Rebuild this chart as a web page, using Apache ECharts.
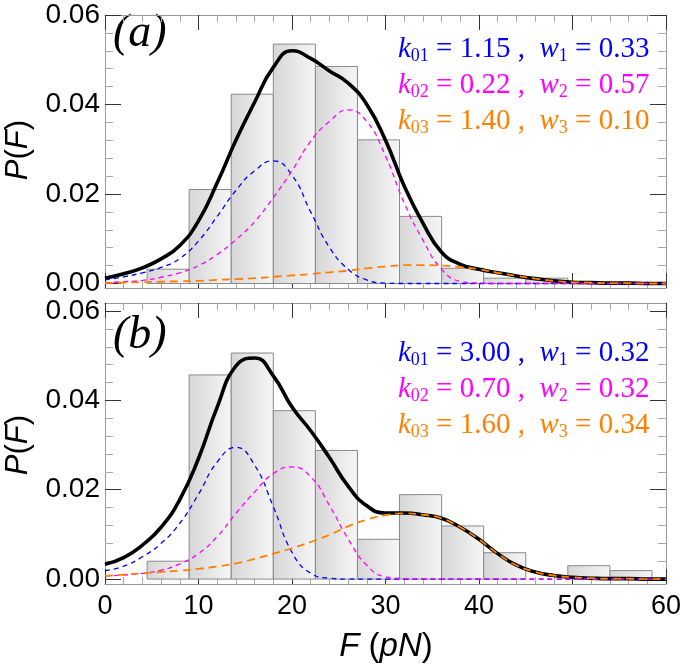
<!DOCTYPE html>
<html><head><meta charset="utf-8">
<script src="https://cdn.jsdelivr.net/npm/echarts@6/dist/echarts.min.js"></script>
<style>html,body{margin:0;padding:0;background:#fff}#c{width:685px;height:670px}</style>
</head><body><div id="c"></div>
<script>
// ---------- data ----------
const xs = [0,2,4,6,8,10,12,14,16,18,20,22,24,26,28,30,32,34,36,38,40,42,44,46,48,50,52,54,56,58,60];

// panel (a)
const blackA   = [0.0012,0.0022,0.0035,0.0055,0.0085,0.0140,0.0225,0.0320,0.0405,0.0483,0.0520,0.0503,0.0475,0.0448,0.0400,0.0320,0.0218,0.0135,0.0070,0.0043,0.0032,0.0024,0.0017,0.0011,0.0006,0.0003,0.0002,0.0001,0.0001,0,0];
const blueA    = [0.0008,0.0015,0.0024,0.0036,0.0056,0.0095,0.0150,0.0208,0.0252,0.0274,0.0242,0.0160,0.0081,0.0032,0.0008,0.0001,0,0,0,0,0,0,0,0,0,0,0,0,0,0,0];
const magentaA = [0.0002,0.0004,0.0007,0.0014,0.0024,0.0040,0.0065,0.0098,0.0138,0.0192,0.0252,0.0318,0.0362,0.0388,0.0362,0.0285,0.0180,0.0097,0.0032,0.0005,0.0001,0,0,0,0,0,0,0,0,0,0];
const orangeA  = [0.0001,0.0002,0.0003,0.0004,0.0005,0.0006,0.0008,0.0010,0.0012,0.0015,0.0018,0.0021,0.0025,0.0029,0.0034,0.0038,0.0041,0.0041,0.0040,0.0037,0.0032,0.0024,0.0017,0.0011,0.0006,0.0003,0.0002,0.0001,0.0001,0,0];

// panel (b)
const blackB   = [0.0033,0.0048,0.0076,0.0116,0.0178,0.0270,0.0385,0.0477,0.0495,0.0455,0.0385,0.0332,0.0272,0.0208,0.0164,0.0148,0.0148,0.0144,0.0136,0.0116,0.0089,0.0057,0.0031,0.0016,0.0008,0.0004,0.0002,0.0001,0.0001,0,0];
const blueB    = [0.0019,0.0029,0.0050,0.0080,0.0125,0.0190,0.0262,0.0295,0.0255,0.0162,0.0060,0.0013,0.0002,0,0,0,0,0,0,0,0,0,0,0,0,0,0,0,0,0,0];
const magentaB = [0.0007,0.0009,0.0013,0.0020,0.0034,0.0057,0.0095,0.0147,0.0195,0.0236,0.0251,0.0229,0.0165,0.0090,0.0031,0.0005,0.0001,0,0,0,0,0,0,0,0,0,0,0,0,0,0];
const orangeB  = [0.0007,0.0010,0.0013,0.0016,0.0019,0.0023,0.0028,0.0035,0.0045,0.0057,0.0069,0.0083,0.0099,0.0118,0.0133,0.0143,0.0147,0.0144,0.0136,0.0116,0.0089,0.0057,0.0031,0.0016,0.0008,0.0004,0.0002,0.0001,0.0001,0,0];

// histograms: bin edges and heights
const binLeft  = [4.5, 9, 13.5, 18, 22.5, 27, 31.5, 36, 40.5, 45, 49.5, 54];
const binRight = [9, 13.5, 18, 22.5, 27, 31.5, 36, 40.5, 45, 49.5, 54, 58.5];
const histA = [0.0032, 0.0210, 0.0423, 0.0535, 0.0485, 0.0321, 0.0150, 0.0034, 0.0012, 0.0012, 0, 0];
const histB = [0.0040, 0.0457, 0.0506, 0.0377, 0.0288, 0.0089, 0.0189, 0.0119, 0.0059, 0, 0.0030, 0.0019];

// ticks
const yMajor = [0, 0.02, 0.04, 0.06];
const yMinor = [0.004,0.008,0.012,0.016,0.024,0.028,0.032,0.036,0.044,0.048,0.052,0.056];

// annotation texts
const paramsA = [['01','1.15','1','0.33'],['02','0.22','2','0.57'],['03','1.40','3','0.10']];
const paramsB = [['01','3.00','1','0.32'],['02','0.70','2','0.32'],['03','1.60','3','0.34']];
const lineColors = ['#0000ff', '#ff00ff', '#ff8000'];
const panelNames = ['(a)', '(b)'];

// ---------- chart ----------
const chart = echarts.init(document.getElementById('c'), null, {renderer: 'canvas'});
const SANS = 'Liberation Sans';
const SERIF = 'Liberation Serif';

function xAxes(gi, showLabels) {
  const base = {
    gridIndex: gi, type: 'value', min: 0, max: 60, interval: 10,
    axisLine: {show: true, onZero: false, lineStyle: {color: '#999', width: 1}},
    axisTick: {show: true, inside: true, length: 15, lineStyle: {color: '#333', width: 1}},
    minorTick: {show: true, splitNumber: 5, length: 7, lineStyle: {color: '#aaa', width: 1}},
    splitLine: {show: false}, minorSplitLine: {show: false}
  };
  return [
    Object.assign({}, base, {position: 'bottom',
      axisLabel: {show: showLabels, fontSize: 27, fontFamily: SANS, color: '#000', margin: 9}}),
    Object.assign({}, base, {position: 'top', axisLabel: {show: false}})
  ];
}
function yAxes(gi, min, max) {
  const common = {gridIndex: gi, type: 'value', min: min, max: max, splitLine: {show: false}};
  return [
    Object.assign({}, common, {position: 'left',
      axisLine: {show: true, onZero: false, lineStyle: {color: '#999', width: 1}},
      axisTick: {show: true, inside: true, length: 16, customValues: yMajor, lineStyle: {color: '#333', width: 1}},
      axisLabel: {show: true, customValues: yMajor, formatter: v => v.toFixed(2), fontSize: 28, fontFamily: SANS, color: '#000', margin: 5}}),
    Object.assign({}, common, {position: 'left',
      axisLine: {show: false, onZero: false},
      axisTick: {show: true, inside: true, length: 8, customValues: yMinor, lineStyle: {color: '#aaa', width: 1}},
      axisLabel: {show: false}}),
    Object.assign({}, common, {position: 'right',
      axisLine: {show: true, onZero: false, lineStyle: {color: '#999', width: 1}},
      axisTick: {show: true, inside: true, length: 16, customValues: yMajor, lineStyle: {color: '#333', width: 1}},
      axisLabel: {show: false}}),
    Object.assign({}, common, {position: 'right',
      axisLine: {show: false, onZero: false},
      axisTick: {show: true, inside: true, length: 8, customValues: yMinor, lineStyle: {color: '#aaa', width: 1}},
      axisLabel: {show: false}})
  ];
}

const barFill = new echarts.graphic.LinearGradient(0, 0, 1, 0, [
  {offset: 0, color: '#d6d6d6'}, {offset: 1, color: '#f6f6f6'}
]);

function histSeries(heights, xi, yi) {
  return {
    type: 'custom', xAxisIndex: xi, yAxisIndex: yi, clip: true,
    data: heights.map((h, i) => [binLeft[i], binRight[i], h]),
    encode: {x: [0, 1], y: 2},
    renderItem: function (params, api) {
      const h = api.value(2);
      if (!(h > 0)) return null;
      const p0 = api.coord([api.value(0), 0]);
      const p1 = api.coord([api.value(1), h]);
      return {type: 'rect',
        shape: {x: p0[0], y: p1[1], width: p1[0] - p0[0], height: p0[1] - p1[1]},
        style: {fill: barFill, stroke: '#8a8a8a', lineWidth: 1}};
    },
    z: 1
  };
}
function curve(vals, xi, yi, color, width, dash) {
  return {
    type: 'line', xAxisIndex: xi, yAxisIndex: yi,
    data: xs.map((x, i) => [x, vals[i]]),
    smooth: 0.5, showSymbol: false, symbol: 'none', silent: true,
    lineStyle: {color: color, width: width, type: dash || 'solid'},
    z: 3
  };
}

function paramText(p, color, x, y) {
  return {
    type: 'text', x: x, y: y,
    style: {
      text: '{k|k}{s|' + p[0] + '}{n| = ' + p[1] + ' ,  }{k|w}{s|' + p[2] + '}{n| = ' + p[3] + '}',
      fill: color,
      rich: {
        k: {fontFamily: SERIF, fontStyle: 'italic', fontSize: 29, lineHeight: 32, fill: color},
        n: {fontFamily: SERIF, fontSize: 29, lineHeight: 32, fill: color},
        s: {fontFamily: SERIF, fontSize: 18, lineHeight: 14, verticalAlign: 'bottom', fill: color}
      }
    }
  };
}

const graphics = [];
[paramsA, paramsB].forEach((ps, pi) => {
  const top0 = pi === 0 ? 33 : 337;
  ps.forEach((p, li) => graphics.push(paramText(p, lineColors[li], 398, top0 + li * 36)));
});
graphics.push({type: 'text', x: 113, y: 34, style: {text: panelNames[0], font: 'italic 46px ' + SERIF, fill: '#000', verticalAlign: 'middle'}});
graphics.push({type: 'text', x: 113, y: 336, style: {text: panelNames[1], font: 'italic 46px ' + SERIF, fill: '#000', verticalAlign: 'middle'}});
[150, 445].forEach(cy => graphics.push({
  type: 'text', x: 18, y: cy, rotation: Math.PI / 2,
  style: {text: '{i|P}({i|F})', fill: '#000', align: 'center', verticalAlign: 'middle',
    fontFamily: SANS, fontSize: 31,
    rich: {i: {fontFamily: SANS, fontSize: 31, fontStyle: 'italic'}}}
}));
graphics.push({
  type: 'text', x: 386, y: 647,
  style: {text: '{i|F} ({i|pN})', fill: '#000', align: 'center', verticalAlign: 'middle',
    fontFamily: SANS, fontSize: 33,
    rich: {i: {fontFamily: SANS, fontSize: 33, fontStyle: 'italic'}}}
});

const option = {
  animation: false,
  backgroundColor: '#fff',
  grid: [
    {left: 105, width: 561, top: 15, height: 273, outerBoundsMode: 'none', containLabel: false},
    {left: 105, width: 561, top: 303, height: 281, outerBoundsMode: 'none', containLabel: false}
  ],
  xAxis: [].concat(xAxes(0, false), xAxes(1, true)),
  yAxis: [].concat(yAxes(0, -0.001, 0.06), yAxes(1, -0.0011, 0.0618)),
  series: [
    histSeries(histA, 0, 0),
    curve(blackA, 0, 0, '#000', 3.6),
    curve(blueA, 0, 0, lineColors[0], 1.3, [5, 4]),
    curve(magentaA, 0, 0, lineColors[1], 1.3, [5, 4]),
    curve(orangeA, 0, 0, lineColors[2], 1.8, [8, 5]),
    histSeries(histB, 2, 4),
    curve(blackB, 2, 4, '#000', 3.6),
    curve(blueB, 2, 4, lineColors[0], 1.3, [5, 4]),
    curve(magentaB, 2, 4, lineColors[1], 1.3, [5, 4]),
    curve(orangeB, 2, 4, lineColors[2], 1.8, [8, 5])
  ],
  graphic: graphics
};
chart.setOption(option);
</script>
</body></html>
